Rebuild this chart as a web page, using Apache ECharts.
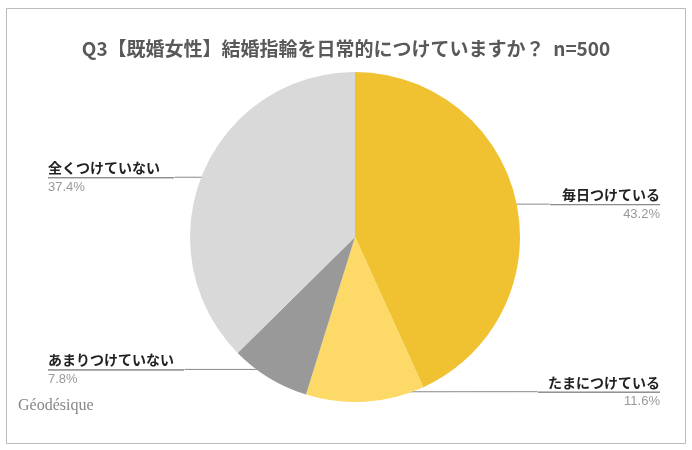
<!DOCTYPE html><html><head><meta charset="utf-8">
<script src="https://cdn.jsdelivr.net/npm/echarts@6/dist/echarts.min.js"></script>
<style>html,body{margin:0;background:#fff}#c{width:692px;height:450px}</style></head><body><div id="c"></div>
<script>
const categories=['毎日つけている','たまにつけている','あまりつけていない','全くつけていない'];
const values=[43.2,11.6,7.8,37.4];
const colors=['#F0C232','#FDD967','#999999','#D9D9D9'];
const lineW=[110,122,136,126];
const edges=[32,32,48,48];
const chart=echarts.init(document.getElementById('c'));
chart.setOption({
  animation:false,
  title:{text:'Q3【既婚女性】結婚指輪を日常的につけていますか？  n=500',left:'center',top:34,
    textStyle:{fontFamily:'Noto Sans CJK JP',fontSize:19,fontWeight:'bold',color:'#595959'}},
  graphic:[
    {type:'rect',shape:{x:6.5,y:8.5,width:679,height:435},style:{fill:'none',stroke:'#bbb',lineWidth:1}},
    {type:'text',left:18,top:398,style:{text:'Géodésique',font:'16px "Liberation Serif"',fill:'#888'}}
  ],
  series:[{
    type:'pie',center:[355,237],radius:165,startAngle:90,clockwise:true,
    data:categories.map((n,i)=>({name:n,value:values[i],itemStyle:{color:colors[i]},
      label:{edgeDistance:edges[i],rich:{l:{width:lineW[i]}}}})),
    label:{alignTo:'edge',edgeDistance:32,distanceToLabelLine:0,
      formatter:p=>'{n|'+p.name+'}\n{l|}\n{p|'+p.value.toFixed(1)+'%}',
      rich:{
        n:{fontFamily:'Noto Sans CJK JP',fontSize:14,fontWeight:'bold',color:'#222',lineHeight:19},
        l:{height:0,lineHeight:1,backgroundColor:'#888',borderColor:'#888',borderWidth:0.5},
        p:{fontFamily:'Liberation Sans',fontSize:13,color:'#999',lineHeight:18}
      }},
    labelLayout:function(params){
      const pts=params.labelLinePoints; if(!pts) return {};
      const r=params.labelRect; const left=r.x<355;
      const y=pts[2][1];
      const x0=pts[0][0]+(355-pts[0][0])*0.06, y0=pts[0][1]+(237-pts[0][1])*0.06;
      return {labelLinePoints:[[x0,y0],[pts[1][0],y],[left?r.x+r.width:r.x,y]]};
    },
    labelLine:{show:true,length:-10,length2:10,lineStyle:{color:'#888',width:1}},
    emphasis:{disabled:true}
  }]
});
</script></body></html>
